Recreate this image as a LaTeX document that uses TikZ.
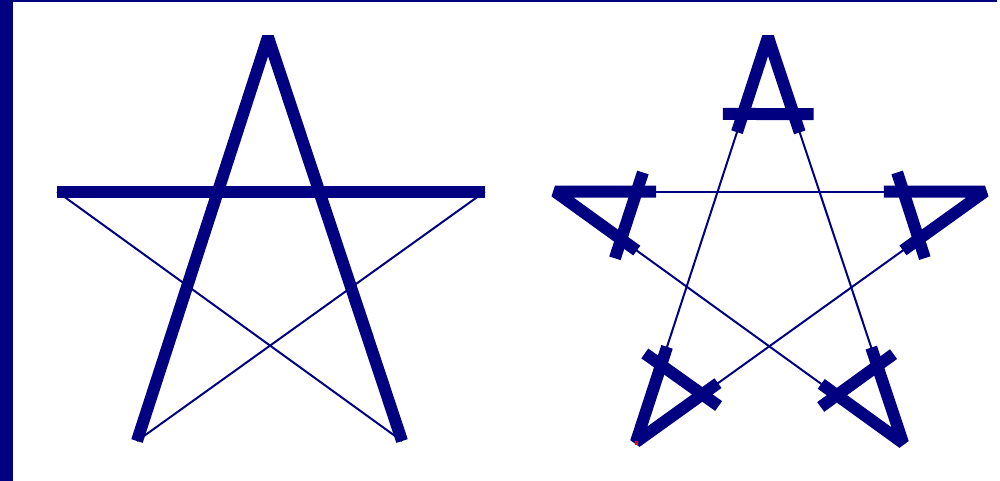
\documentclass[tikz,border=0pt]{standalone}
\usetikzlibrary{calc}
\definecolor{navy}{HTML}{000080}
\begin{document}
\begin{tikzpicture}[x=1pt,y=-1pt,
  heavyline/.style={draw=navy,line width=12pt,line cap=butt,line join=bevel},
  thinline/.style={draw=navy,line width=2pt,line cap=butt},
  framepart/.style={fill=navy,draw=none}]
\useasboundingbox (0,0) rectangle (1000,481);
% frame
\fill[framepart] (0,0) rectangle (12.5,481);
\fill[framepart] (12,0) rectangle (997,1.6);
% left star
\coordinate (A1) at (268,37);
\coordinate (L1) at (57,191.5);
\coordinate (R1) at (485,191.5);
\coordinate (BL1) at (137,441);
\coordinate (BR1) at (402,441);
\draw[thinline] (L1) -- (BR1);
\draw[thinline] (R1) -- (BL1);
\draw[heavyline] (BL1) -- (A1) -- (BR1);
\draw[heavyline] (L1) -- (R1);
% right star
\coordinate (A2) at (768,37);
\coordinate (L2) at (555,191.5);
\coordinate (R2) at (985,191.5);
\coordinate (BL2) at (636,442);
\coordinate (BR2) at (903,443);
\draw[thinline] (A2) -- (BL2);
\draw[thinline] (A2) -- (BR2);
\draw[thinline] (L2) -- (R2);
\draw[thinline] (L2) -- (BR2);
\draw[thinline] (R2) -- (BL2);
% thick tips
\foreach \v/\a/\b in {A2/BL2/BR2, L2/R2/BR2, R2/L2/BL2, BL2/A2/R2, BR2/A2/L2}{
  \draw[heavyline] ($(\v)!0.235!(\a)$) -- (\v) -- ($(\v)!0.235!(\b)$);
  \coordinate (p) at ($(\v)!0.19!(\a)$);
  \coordinate (q) at ($(\v)!0.19!(\b)$);
  \draw[heavyline] ($(p)!-20pt!(q)$) -- ($(q)!-20pt!(p)$);
}
\fill[red] (635,441) rectangle (637.5,444.5);
\end{tikzpicture}
\end{document}
